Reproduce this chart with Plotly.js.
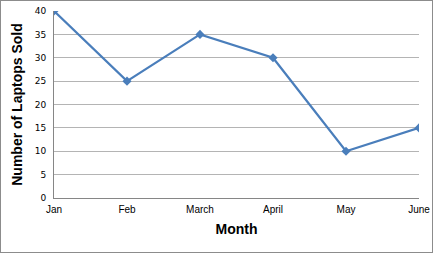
<!DOCTYPE html>
<html><head><meta charset="utf-8">
<script src="https://cdn.plot.ly/plotly-3.0.1.min.js"></script>
<style>html,body{margin:0;padding:0;background:#fff}#c{width:433px;height:253px;box-sizing:border-box;border:1px solid #8c8c8c;overflow:hidden}</style>
</head><body><div id="c"><div id="plot" style="width:431px;height:251px"></div></div>
<script>
const months = ["Jan", "Feb", "March", "April", "May", "June"];
const laptopsSold = [40, 25, 35, 30, 10, 15];
const yTicks = [0, 5, 10, 15, 20, 25, 30, 35, 40];

Plotly.newPlot('plot', [{
  x: months, y: laptopsSold, type: 'scatter', mode: 'lines+markers',
  line: {color: '#4A7EBB', width: 2.25},
  marker: {symbol: 'diamond', size: 7, color: '#4A7EBB'}
}], {
  width: 431, height: 251,
  margin: {l: 53, r: 13, t: 10, b: 54},
  paper_bgcolor: '#fff', plot_bgcolor: '#fff',
  showlegend: false,
  font: {family: 'Liberation Sans, sans-serif', color: '#000'},
  xaxis: {
    type: 'category', range: [0, 5], showgrid: false, zeroline: false,
    showline: true, linecolor: '#868686', linewidth: 1, ticks: '',
    tickfont: {size: 10, family: 'Liberation Sans, sans-serif'}, ticklabelstandoff: 2,
    title: {text: 'Month', font: {size: 14, family: 'Liberation Sans, sans-serif', weight: 'bold'}, standoff: 10}
  },
  yaxis: {
    range: [0, 40], tickvals: yTicks, showgrid: true, gridcolor: '#b4b4b4', gridwidth: 1,
    zeroline: false, showline: true, linecolor: '#868686', linewidth: 1, ticks: '',
    tickfont: {size: 9, family: 'DejaVu Sans, sans-serif'}, ticklabelstandoff: 5,
    title: {text: 'Number of Laptops Sold', font: {size: 14, family: 'Liberation Sans, sans-serif', weight: 'bold'}, standoff: 8}
  }
}, {staticPlot: true, displayModeBar: false});
</script></body></html>
